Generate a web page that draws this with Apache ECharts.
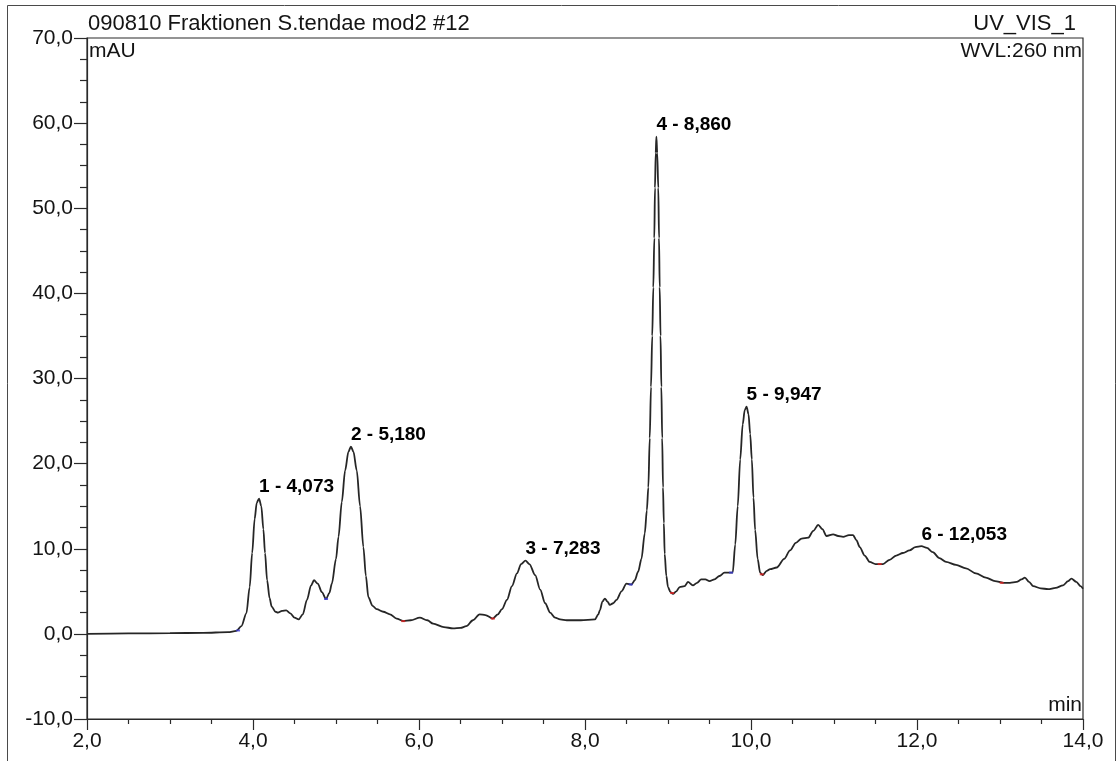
<!DOCTYPE html>
<html>
<head>
<meta charset="utf-8">
<script src="https://cdn.jsdelivr.net/npm/echarts@6/dist/echarts.min.js"></script>
<style>
  html, body { margin: 0; padding: 0; background: #ffffff; }
  #chart { width: 1119px; height: 761px; }
</style>
</head>
<body>
<div id="chart"></div>
<script>
// Chromatogram trace: retention time (min) and UV signal (mAU)
const retentionTime = [
  2.00, 2.50, 3.00, 3.40, 3.70, 3.80, 3.86, 3.92, 3.96, 3.99,
  4.02, 4.045, 4.073, 4.10, 4.125, 4.145, 4.17, 4.20, 4.225, 4.27,
  4.30, 4.35, 4.40, 4.45, 4.50, 4.55, 4.60, 4.65, 4.70, 4.735,
  4.78, 4.83, 4.88, 4.92, 4.95, 5.00, 5.03, 5.07, 5.11, 5.15,
  5.18, 5.21, 5.25, 5.29, 5.33, 5.36, 5.39, 5.44, 5.49, 5.57,
  5.65, 5.73, 5.81, 5.90, 6.01, 6.10, 6.17, 6.30, 6.41, 6.50,
  6.57, 6.65, 6.73, 6.80, 6.89, 6.95, 7.00, 7.06, 7.12, 7.18,
  7.23, 7.283, 7.33, 7.40, 7.46, 7.52, 7.58, 7.64, 7.70, 7.78,
  7.95, 8.12, 8.16, 8.18, 8.21, 8.24, 8.27, 8.30, 8.34, 8.38,
  8.44, 8.50, 8.56, 8.60, 8.64, 8.68, 8.72, 8.745, 8.763, 8.78,
  8.795, 8.81, 8.823, 8.835, 8.843, 8.852, 8.860, 8.87, 8.883, 8.892,
  8.90, 8.91, 8.92, 8.93, 8.94, 8.95, 8.96, 8.98, 9.00, 9.03,
  9.06, 9.10, 9.14, 9.20, 9.24, 9.30, 9.35, 9.40, 9.45, 9.50,
  9.56, 9.62, 9.68, 9.73, 9.78, 9.81, 9.84, 9.87, 9.90, 9.925,
  9.947, 9.97, 9.99, 10.01, 10.03, 10.05, 10.08, 10.11, 10.14, 10.19,
  10.23, 10.31, 10.40, 10.47, 10.54, 10.61, 10.69, 10.75, 10.81, 10.86,
  10.91, 10.99, 11.05, 11.11, 11.18, 11.23, 11.27, 11.31, 11.37, 11.43,
  11.50, 11.59, 11.67, 11.75, 11.83, 11.91, 11.98, 12.053, 12.12, 12.19,
  12.27, 12.35, 12.47, 12.59, 12.71, 12.83, 12.94, 13.04, 13.12, 13.20,
  13.26, 13.30, 13.35, 13.40, 13.49, 13.58, 13.67, 13.76, 13.82, 13.86,
  13.92, 13.97, 14.00
];
const signal = [
  0.0, 0.05, 0.08, 0.12, 0.2, 0.35, 0.9, 2.4, 5.5, 9.5,
  13.5, 15.4, 15.9, 15.0, 12.3, 9.5, 6.3, 4.2, 3.2, 2.6,
  2.5, 2.7, 2.75, 2.4, 1.9, 1.7, 2.3, 4.0, 5.7, 6.3,
  5.9, 4.9, 4.1, 4.8, 5.9, 8.8, 11.4, 15.5, 19.2, 21.4,
  22.0, 21.4, 19.2, 15.0, 10.2, 6.8, 4.3, 3.3, 2.9, 2.6,
  2.3, 1.8, 1.5, 1.6, 1.9, 1.6, 1.2, 0.8, 0.64, 0.7,
  0.9, 1.6, 2.3, 2.2, 1.8, 2.3, 2.9, 4.0, 5.6, 7.1,
  8.2, 8.6, 8.2, 6.9, 5.2, 3.6, 2.5, 1.9, 1.7, 1.6,
  1.6, 1.7, 2.3, 2.8, 3.8, 4.15, 3.8, 3.4, 3.6, 4.0,
  5.0, 5.9, 5.8, 6.3, 7.3, 8.8, 11.8, 14.5, 17.2, 23.0,
  29.0, 35.0, 40.7, 46.5, 52.4, 56.5, 58.4, 56.5, 52.4, 46.5,
  40.7, 35.0, 29.0, 23.0, 17.2, 13.0, 9.4, 6.8, 5.5, 4.9,
  4.7, 5.0, 5.5, 5.6, 6.1, 5.7, 6.0, 6.4, 6.4, 6.2,
  6.4, 6.8, 7.2, 7.2, 7.2, 10.5, 15.0, 20.5, 24.6, 26.3,
  26.7, 25.8, 23.5, 20.5, 16.0, 12.2, 8.8, 7.2, 6.9, 7.4,
  7.6, 7.8, 8.8, 9.8, 10.7, 11.2, 11.3, 12.1, 12.8, 12.3,
  11.5, 11.7, 11.5, 11.4, 11.6, 11.6, 11.0, 10.2, 9.2, 8.45,
  8.2, 8.2, 8.7, 9.2, 9.5, 9.8, 10.2, 10.3, 10.1, 9.6,
  8.9, 8.45, 8.1, 7.7, 7.1, 6.6, 6.2, 6.0, 6.0, 6.1,
  6.4, 6.6, 6.1, 5.6, 5.35, 5.25, 5.4, 5.7, 6.2, 6.5,
  6.1, 5.6, 5.3
];

// Integrated peaks
const peakNumber = [1, 2, 3, 4, 5, 6];
const peakTime = [4.073, 5.180, 7.283, 8.860, 9.947, 12.053];
const peakHeight = [15.9, 22.0, 8.6, 58.4, 26.7, 10.3];

// Integration baseline delimiters (start / end points)
const delimiterStartTime = [3.82, 4.88, 8.55, 9.76];
const delimiterStartValue = [0.4, 4.1, 5.8, 7.2];
const delimiterEndTime = [5.81, 6.89, 9.05, 10.13, 11.55, 13.02];
const delimiterEndValue = [1.5, 1.8, 4.8, 7.0, 8.2, 6.0];

const FONT = '"Liberation Sans", Arial, Helvetica, sans-serif';
const INK = '#141414';
const decimalComma = v => v.toFixed(1).replace('.', ',');
const zip = (a, b) => a.map((x, i) => [x, b[i]]);

const chart = echarts.init(document.getElementById('chart'), null, { renderer: 'canvas' });

chart.setOption({
  animation: false,
  backgroundColor: '#ffffff',
  grid: {
    left: 87, right: 36, top: 38, bottom: 42,
    show: true, borderColor: '#2a2a2a', borderWidth: 1.2, backgroundColor: 'transparent'
  },
  xAxis: {
    type: 'value', min: 2, max: 14, interval: 2,
    axisLine: { show: true, onZero: false, lineStyle: { color: '#2a2a2a', width: 1.2 } },
    axisTick: { show: true, length: 11, lineStyle: { color: '#2a2a2a', width: 1.2 } },
    minorTick: { show: true, splitNumber: 4, length: 5, lineStyle: { color: '#2a2a2a', width: 1.2 } },
    splitLine: { show: false },
    axisLabel: { formatter: decimalComma, fontFamily: FONT, fontSize: 21, color: INK, margin: 12 }
  },
  yAxis: {
    type: 'value', min: -10, max: 70, interval: 10,
    axisLine: { show: true, onZero: false, lineStyle: { color: '#2a2a2a', width: 1.2 } },
    axisTick: { show: true, length: 13, lineStyle: { color: '#2a2a2a', width: 1.2 } },
    minorTick: { show: true, splitNumber: 4, length: 7, lineStyle: { color: '#2a2a2a', width: 1.2 } },
    splitLine: { show: false },
    axisLabel: { formatter: decimalComma, fontFamily: FONT, fontSize: 21, color: INK, margin: 14 }
  },
  series: [
    {
      name: 'UV_VIS_1',
      type: 'line',
      data: zip(retentionTime, signal),
      showSymbol: false,
      smooth: 0.3,
      smoothMonotone: 'x',
      lineStyle: { color: '#262626', width: 1.8 },
      z: 3
    },
    {
      name: 'start',
      type: 'scatter',
      data: zip(delimiterStartTime, delimiterStartValue),
      symbol: 'rect', symbolSize: [4, 2],
      itemStyle: { color: '#3b3bd6' },
      z: 4
    },
    {
      name: 'end',
      type: 'scatter',
      data: zip(delimiterEndTime, delimiterEndValue),
      symbol: 'rect', symbolSize: [4, 2],
      itemStyle: { color: '#e02020' },
      z: 4
    },
    {
      name: 'peaks',
      type: 'scatter',
      data: peakTime.map((t, i) => ({ value: [t, peakHeight[i]], no: peakNumber[i] })),
      symbolSize: 0,
      itemStyle: { color: INK },
      label: {
        show: true,
        position: 'top',
        align: 'left',
        distance: 2,
        fontFamily: FONT,
        fontSize: 19,
        fontWeight: 'bold',
        color: '#000000',
        opacity: 1,
        textBorderWidth: 0,
        formatter: p => p.data.no + ' - ' + p.data.value[0].toFixed(3).replace('.', ',')
      },
      z: 5
    }
  ],
  graphic: [
    {
      type: 'rect', silent: true,
      shape: { x: 7.5, y: 5.5, width: 1108, height: 800 },
      style: { fill: 'none', stroke: '#4a4a4a', lineWidth: 1 }
    },
    {
      type: 'text', left: 88, top: 13,
      style: { text: '090810 Fraktionen S.tendae mod2 #12', font: '22px ' + FONT, fill: INK }
    },
    {
      type: 'text', right: 43, top: 13,
      style: { text: 'UV_VIS_1', font: '22px ' + FONT, fill: INK, textAlign: 'right' }
    },
    {
      type: 'text', left: 89, top: 41,
      style: { text: 'mAU', font: '21px ' + FONT, fill: INK }
    },
    {
      type: 'text', right: 37, top: 41,
      style: { text: 'WVL:260 nm', font: '21px ' + FONT, fill: INK, textAlign: 'right' }
    },
    {
      type: 'text', right: 37, top: 695,
      style: { text: 'min', font: '21px ' + FONT, fill: INK, textAlign: 'right' }
    }
  ]
});
</script>
</body>
</html>
